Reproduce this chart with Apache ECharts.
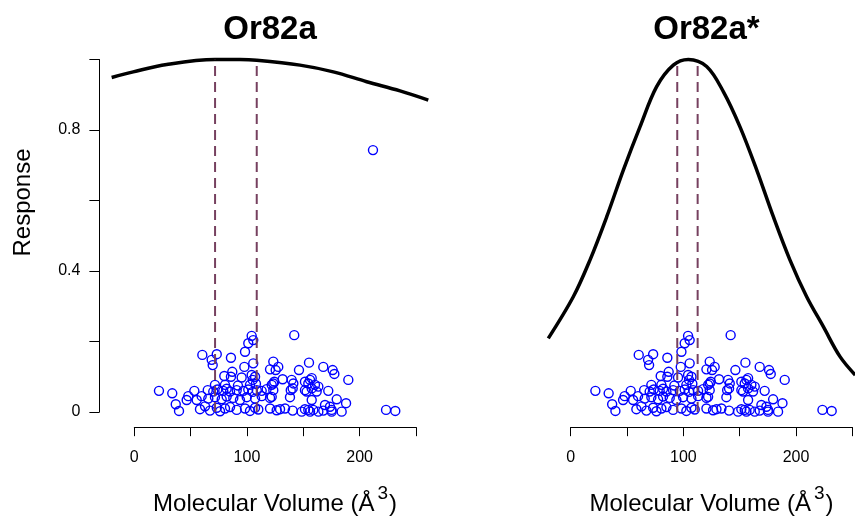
<!DOCTYPE html>
<html>
<head>
<meta charset="utf-8">
<script src="https://cdn.jsdelivr.net/npm/echarts@6/dist/echarts.min.js"></script>
<style>
  html, body { margin: 0; padding: 0; background: #fff; }
  #chart { width: 855px; height: 518px; }
</style>
</head>
<body>
<div id="chart"></div>
<script>
// panel titles
const panelTitles = ['Or82a', 'Or82a*'];

// measured responses vs molecular volume (same odorants in both panels)
const odorPoints = [
  [60.4,0.162],[73.2,0.164],[68.7,0.148],[69.6,0.133],[85.8,0.154],[104.2,0.216],[101.2,0.195],
  [105.6,0.204],[98.3,0.171],[123.4,0.143],[120.5,0.121],[125.5,0.119],[97.7,0.128],[105.6,0.138],
  [79.9,0.102],[87,0.114],[85.8,0.1],[95.3,0.098],[104.2,0.105],[107.2,0.1],[105.1,0.091],
  [124.3,0.086],[122,0.077],[142,0.218],[127.8,0.128],[155.1,0.14],[146.2,0.119],[167.8,0.128],
  [176.1,0.119],[177.6,0.108],[190,0.091],[131.7,0.093],[123.4,0.081],[139.7,0.091],[141.2,0.081],
  [151.5,0.086],[156,0.091],[154.5,0.081],[157.5,0.096],
  [21.9,0.06],[33.7,0.053],[53.3,0.06],[65.2,0.062],[70.1,0.058],[73.7,0.064],[79,0.06],[82,0.066],
  [85,0.058],[90.9,0.062],[96.8,0.06],[101.2,0.064],[105.1,0.057],[108.7,0.062],[113.1,0.06],
  [117.5,0.065],[71.6,0.077],[80.5,0.077],[92,0.075],[102.7,0.077],[108,0.08],
  [47.9,0.045],[46.5,0.034],[36.8,0.022],[55.4,0.034],[59.8,0.045],[65.7,0.038],[71.6,0.042],
  [77.6,0.036],[82,0.044],[87.9,0.04],[93.8,0.034],[99.8,0.042],[107.2,0.038],[113.1,0.045],[120.5,0.04],
  [39.7,0.003],[58.3,0.008],[62.8,0.016],[67.2,0.004],[73.2,0.012],[76.1,0.002],[80.5,0.01],
  [85,0.014],[90.9,0.006],[98.3,0.01],[102.7,0.003],[107.2,0.012],[110.1,0.007],[120.5,0.01],[126.4,0.005],
  [138.9,0.062],[140.6,0.067],[151.5,0.062],[153,0.058],[157.5,0.067],[160.4,0.077],[163.4,0.072],
  [161.9,0.058],[172.2,0.06],[123.4,0.062],[122,0.043],[138.2,0.042],[157.5,0.034],[179.7,0.036],
  [188,0.025],[169.3,0.02],[173.7,0.015],[129.4,0.008],[133.8,0.01],[140.6,0.004],[148.6,0.001],
  [151.5,0.008],[154.5,0.006],[156,0.001],[158.9,0.006],[163.4,0.001],[167.8,0.004],[175.2,0.006],
  [175.2,0.001],[184.1,0.001],[223.5,0.006],[231.7,0.003]
];
// only shown in the left panel
const leftOnlyPoints = [[211.9, 0.743]];

// fitted tuning curves
const curveLeftX = [-20.1, -0.9, 28.8, 71.6, 93.8, 108.7, 147.1, 176.7, 206.3, 235.9, 261];
const curveLeftY = [0.949, 0.965, 0.986, 1.0, 1.0, 0.998, 0.984, 0.965, 0.937, 0.911, 0.885];
const curveRightX = [-19.9, 2.3, 17.1, 32, 46.8, 61.5, 76.3, 91.1, 104.4, 120.7, 135.5, 150.3, 165.1, 179.9, 194.7, 209.5, 224.3, 239.1, 252.6];
const curveRightY = [0.209, 0.327, 0.431, 0.554, 0.687, 0.809, 0.923, 0.984, 1.0, 0.98, 0.909, 0.809, 0.687, 0.554, 0.431, 0.327, 0.242, 0.157, 0.105];

// dashed markers
const dashLeftX = [71.7, 108.7];
const dashLeftTop = [0.999, 0.998];
const dashRightX = [94.6, 112.7];
const dashRightTop = [0.99, 0.99];

// layout: pixel position of x=0 in each panel, px per unit, y=0 baseline and px per unit
const X0 = [134.3, 570.7], XS = 1.1264, Y0 = 412, YS = 352.5;
const xMin = -31, xMax = 272, yMin = -0.043, yMax = 1.04;
const FONT = '"Liberation Sans", Arial, Helvetica, sans-serif';

const chart = echarts.init(document.getElementById('chart'));

const dataGrid = i => ({
  left: X0[i] + XS * xMin, width: XS * (xMax - xMin),
  top: Y0 - YS * yMax, height: YS * (yMax - yMin),
  outerBoundsMode: 'none'
});
const axisGrid = i => ({
  left: X0[i], width: XS * 250,
  top: Y0 - YS, height: YS * (1 - yMin),
  outerBoundsMode: 'none'
});

const hiddenX = (gi, min, max) => ({ type: 'value', gridIndex: gi, min, max, show: false });
const hiddenY = (gi, min, max) => ({ type: 'value', gridIndex: gi, min, max, show: false });

const shownX = gi => ({
  type: 'value', gridIndex: gi, min: 0, max: 250, interval: 50,
  splitLine: { show: false },
  axisLine: { show: true, onZero: false, lineStyle: { color: '#000', width: 1 } },
  axisTick: { show: true, length: 9, lineStyle: { color: '#000', width: 1 } },
  axisLabel: {
    margin: 22, fontSize: 16, color: '#000', fontFamily: FONT,
    formatter: v => (v % 100 === 0 ? String(v) : '')
  },
  name: '{b|Molecular Volume (Å}{s|3}{b|)}',
  nameLocation: 'middle', nameGap: 57,
  nameTextStyle: {
    fontFamily: FONT, color: '#000',
    rich: {
      b: { fontSize: 24, fontFamily: FONT, color: '#000' },
      s: { fontSize: 19, fontFamily: FONT, color: '#000', padding: [0, 1, 22, 3] }
    }
  }
});

const curve = (gi, xs, ys) => ({
  type: 'line', xAxisIndex: gi, yAxisIndex: gi, smooth: 0.35,
  symbol: 'none', clip: false, z: 3,
  lineStyle: { color: '#000', width: 3.5 },
  data: xs.map((x, k) => [x, ys[k]])
});
const dashed = (gi, x, top) => ({
  type: 'line', xAxisIndex: gi, yAxisIndex: gi, symbol: 'none', z: 4,
  lineStyle: { color: '#76405f', width: 2, type: [10, 6] },
  data: [[x, 0], [x, top]]
});
const dots = (gi, pts) => ({
  type: 'scatter', xAxisIndex: gi, yAxisIndex: gi, symbol: 'circle', symbolSize: 9, z: 2,
  itemStyle: { color: 'rgba(0,0,0,0)', borderColor: '#0000ff', borderWidth: 1.4, opacity: 1 },
  data: pts
});

const option = {
  animation: false,
  backgroundColor: '#fff',
  title: panelTitles.map((t, i) => ({
    text: t, left: X0[i] + XS * (xMin + xMax) / 2, top: 13, textAlign: 'center', padding: 0,
    textStyle: { fontSize: 33, fontWeight: 'bold', color: '#000', fontFamily: FONT }
  })),
  grid: [
    dataGrid(0), dataGrid(1), axisGrid(0), axisGrid(1),
    { left: X0[0] + XS * xMin, width: 20, top: Y0 - YS, height: YS, outerBoundsMode: 'none' },
    // holder for the y title, which sits above the plot centre
    { left: X0[0] + XS * xMin, width: 20, top: 148, height: 109, outerBoundsMode: 'none' }
  ],
  xAxis: [
    hiddenX(0, xMin, xMax), hiddenX(1, xMin, xMax), shownX(2), shownX(3),
    hiddenX(4, 0, 1), hiddenX(5, 0, 1)
  ],
  yAxis: [
    hiddenY(0, yMin, yMax), hiddenY(1, yMin, yMax), hiddenY(2, yMin, 1), hiddenY(3, yMin, 1),
    {
      type: 'value', gridIndex: 4, min: 0, max: 1, interval: 0.2,
      splitLine: { show: false },
      axisLine: { show: true, onZero: false, lineStyle: { color: '#000', width: 1 } },
      axisTick: { show: true, length: 10, lineStyle: { color: '#000', width: 1 } },
      axisLabel: {
        margin: 19, fontSize: 16, color: '#000', fontFamily: FONT,
        formatter: v => {
          const k = Math.round(v * 10);
          if (k % 4 !== 0) return '';
          return k === 0 ? '0' : v.toFixed(1);
        }
      }
    },
    {
      type: 'value', gridIndex: 5, min: 0, max: 1,
      axisLine: { show: false }, axisTick: { show: false }, axisLabel: { show: false },
      splitLine: { show: false },
      name: 'Response', nameLocation: 'middle', nameRotate: 90, nameGap: 64,
      nameTextStyle: { fontSize: 24, color: '#000', fontFamily: FONT }
    }
  ],
  series: [
    dots(0, odorPoints.concat(leftOnlyPoints)),
    curve(0, curveLeftX, curveLeftY),
    dashed(0, dashLeftX[0], dashLeftTop[0]),
    dashed(0, dashLeftX[1], dashLeftTop[1]),
    dots(1, odorPoints),
    curve(1, curveRightX, curveRightY),
    dashed(1, dashRightX[0], dashRightTop[0]),
    dashed(1, dashRightX[1], dashRightTop[1])
  ]
};

chart.setOption(option);
</script>
</body>
</html>
